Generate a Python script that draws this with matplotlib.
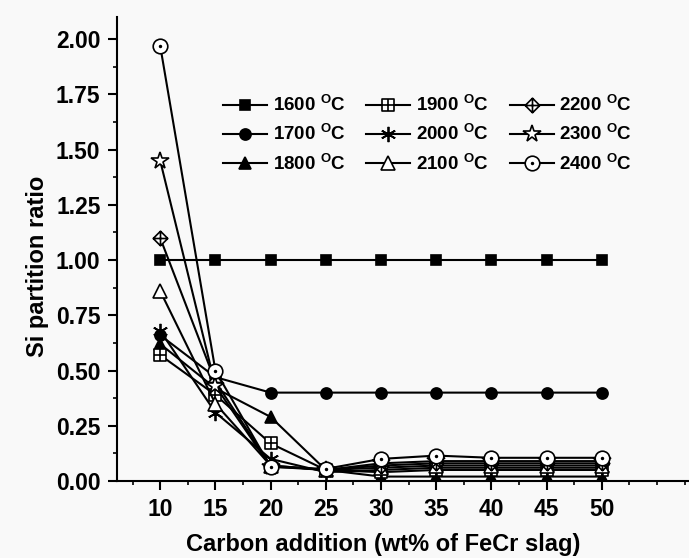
import matplotlib
matplotlib.use("Agg")
import matplotlib.pyplot as plt
from matplotlib.path import Path
from matplotlib.ticker import MultipleLocator
import numpy as np

plt.rcParams['font.family'] = ['Liberation Sans', 'DejaVu Sans']
plt.rcParams['font.weight'] = 'bold'
plt.rcParams['mathtext.fontset'] = 'custom'
plt.rcParams['mathtext.rm'] = 'Liberation Sans:bold'
plt.rcParams['mathtext.bf'] = 'Liberation Sans:bold'

carbon = [10, 15, 20, 25, 30, 35, 40, 45, 50]
temps = ["1600", "1700", "1800", "1900", "2000", "2100", "2200", "2300", "2400"]
s1600 = [1.00, 1.00, 1.00, 1.00, 1.00, 1.00, 1.00, 1.00, 1.00]
s1700 = [0.66, 0.47, 0.40, 0.40, 0.40, 0.40, 0.40, 0.40, 0.40]
s1800 = [0.62, 0.42, 0.29, 0.05, 0.02, 0.02, 0.02, 0.02, 0.02]
s1900 = [0.57, 0.39, 0.17, 0.05, 0.04, 0.05, 0.05, 0.05, 0.05]
s2000 = [0.68, 0.31, 0.10, 0.04, 0.05, 0.06, 0.06, 0.06, 0.06]
s2100 = [0.86, 0.35, 0.07, 0.05, 0.06, 0.07, 0.07, 0.07, 0.07]
s2200 = [1.10, 0.45, 0.07, 0.05, 0.07, 0.08, 0.08, 0.08, 0.08]
s2300 = [1.45, 0.43, 0.065, 0.05, 0.08, 0.09, 0.09, 0.09, 0.09]
s2400 = [1.97, 0.50, 0.064, 0.055, 0.10, 0.115, 0.105, 0.105, 0.105]
series = [s1600, s1700, s1800, s1900, s2000, s2100, s2200, s2300, s2400]

M, L, C = Path.MOVETO, Path.LINETO, Path.CLOSEPOLY
sq_cross = Path([(-1, -1), (1, -1), (1, 1), (-1, 1), (-1, -1),
                 (0, -1), (0, 1), (-1, 0), (1, 0)],
                [M, L, L, L, C, M, L, M, L])
dia_cross = Path([(0, -1), (1, 0), (0, 1), (-1, 0), (0, -1),
                  (0, -1), (0, 1), (-1, 0), (1, 0)],
                 [M, L, L, L, C, M, L, M, L])
uc = Path.unit_circle()
small = Path(uc.vertices * 0.12, uc.codes)
circ_dot = Path.make_compound_path(uc, small)

styles = [
    dict(marker='s', mfc='black', ms=7.5),
    dict(marker='o', mfc='black', ms=8),
    dict(marker='^', mfc='black', ms=8.5),
    dict(marker=sq_cross, mfc='white', ms=8),
    dict(marker=(6, 2, 0), mfc='black', ms=11, mew=1.3),
    dict(marker='^', mfc='white', ms=10.5),
    dict(marker=dia_cross, mfc='white', ms=10.5),
    dict(marker='*', mfc='white', ms=13),
    dict(marker=circ_dot, mfc='white', ms=10.5),
]

fig = plt.figure(figsize=(6.89, 5.58), dpi=100, facecolor='#f9f9f9')
ax = fig.add_axes([0.170, 0.138, 0.8285, 0.8315])
ax.set_facecolor('#f9f9f9')

for t, vals, st in zip(temps, series, styles):
    kw = dict(color='black', lw=1.5, mec='black', mew=1.2)
    kw.update(st)
    ax.plot(carbon, vals, label=t + r" $^{\mathrm{O}}$C", **kw)

ax.set_xlim(6.1, 57.8)
ax.set_ylim(0, 2.10)
ax.xaxis.set_major_locator(MultipleLocator(5))
ax.xaxis.set_minor_locator(MultipleLocator(2.5))
ax.yaxis.set_major_locator(MultipleLocator(0.25))
ax.yaxis.set_minor_locator(MultipleLocator(0.125))
ax.set_xticks(carbon)
ax.yaxis.set_major_formatter(plt.FuncFormatter(lambda v, p: f"{v:.2f}"))

for s in ['top', 'right']:
    ax.spines[s].set_visible(False)
for s in ['left', 'bottom']:
    ax.spines[s].set_linewidth(1.5)
ax.tick_params(which='major', direction='out', length=6.5, width=1.5, labelsize=16.5, pad=5.5)
ax.tick_params(which='minor', direction='out', length=3, width=1.2)
for lab in ax.get_xticklabels() + ax.get_yticklabels():
    lab.set_fontweight('bold')

ax.set_xlabel("Carbon addition (wt% of FeCr slag)", fontsize=17, fontweight='bold')
ax.set_ylabel("Si partition ratio", fontsize=17, fontweight='bold')
ax.xaxis.set_label_coords(0.466, -0.112)
ax.yaxis.set_label_coords(-0.12, 0.463)

leg = ax.legend(ncol=3, frameon=False, loc='center', bbox_to_anchor=(0.544, 0.748),
                handlelength=2.35, columnspacing=1.1, handletextpad=0.3,
                labelspacing=0.45, prop={'weight': 'bold', 'size': 13.5})

fig.savefig("out.png", dpi=100, facecolor=fig.get_facecolor())
